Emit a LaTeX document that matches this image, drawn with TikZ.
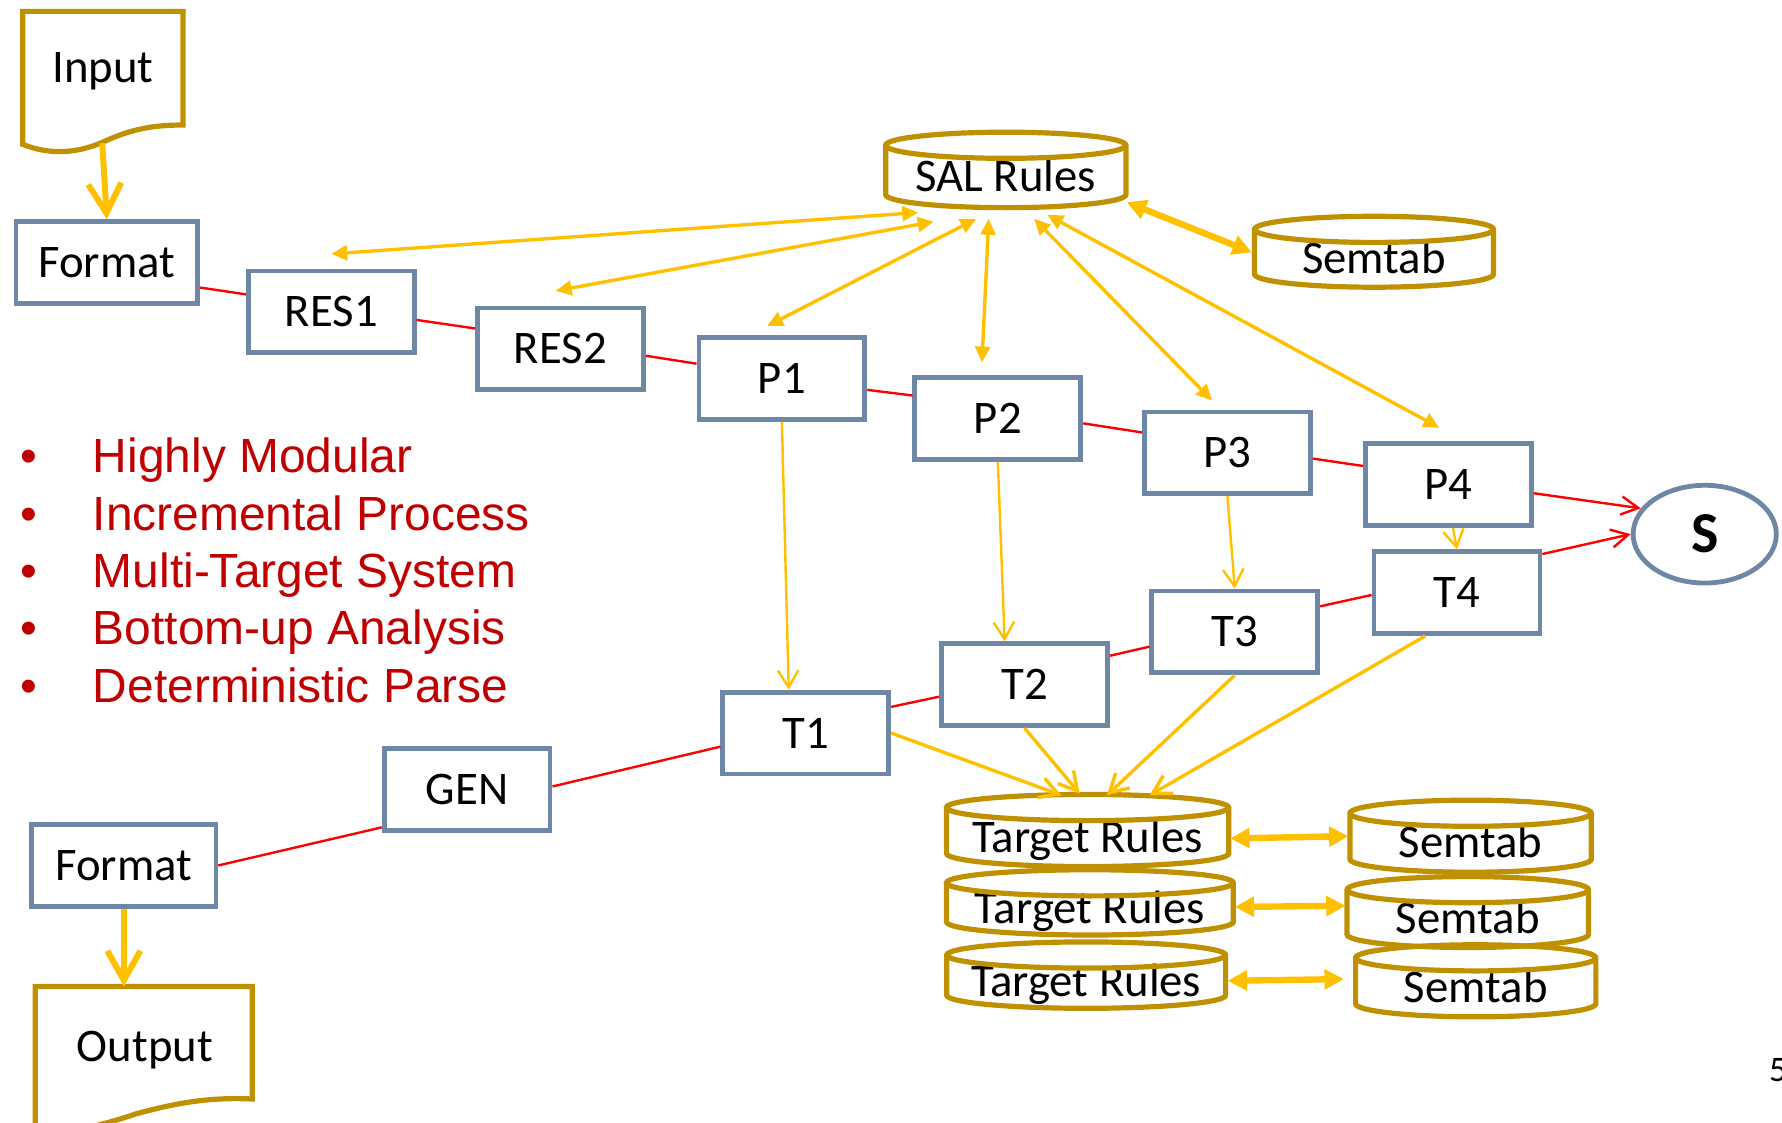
\documentclass[tikz,border=0pt]{standalone}
\usepackage{fontspec}
\setmainfont{Carlito}
\newfontfamily\arialfont{Liberation Sans}
\usepackage{xcolor}
\usepackage{tikz}
\usetikzlibrary{shapes.geometric,arrows.meta,positioning,calc}

\definecolor{boxblue}{HTML}{6F87A7}
\definecolor{dbgold}{HTML}{BF9000}
\definecolor{arrowyellow}{HTML}{FFC000}
\definecolor{itemred}{HTML}{C00000}

\newcommand{\capr}{1.15mm}
% drum outline round a named node
\newcommand{\drum}[1]{%
  \draw[dbline] let \p1=(#1.north west), \p2=(#1.south east), \n1={(\x2-\x1)/2} in
    (\x1,\y1-\capr) -- (\x1,\y2+\capr)
    arc[start angle=180, end angle=360, x radius=\n1, y radius=\capr]
    -- (\x2,\y1-\capr)
    arc[start angle=0, end angle=360, x radius=\n1, y radius=\capr];
}

\tikzset{
  procbox/.style={draw=boxblue, line width=1.2pt, fill=white, minimum width=14.6mm, minimum height=7.2mm, inner sep=0pt, font=\fontsize{11.7}{14}\selectfont},
  sinknode/.style={ellipse, draw=boxblue, line width=1.2pt, fill=white, minimum width=12.6mm, minimum height=8.6mm, inner sep=0pt, font=\fontsize{14.5}{17}\selectfont\bfseries},
  database/.style={rectangle, inner sep=0pt, text height=10.8pt, text depth=0pt, font=\fontsize{11.7}{14}\selectfont},
  dbline/.style={draw=dbgold, line width=1.3pt},
  docline/.style={draw=dbgold, line width=1.3pt, fill=white},
  doctext/.style={anchor=base, font=\fontsize{11.7}{14}\selectfont},
  itemtext/.style={text=itemred, inner sep=0pt, font=\arialfont\fontsize{12}{14}\selectfont},
  redline/.style={draw=red, line width=0.6pt},
  redarrow/.style={redline, -{Straight Barb[length=1.5mm,width=1.6mm]}},
  flowarrow/.style={draw=arrowyellow, line width=1.5pt, -{Straight Barb[length=2.6mm,width=2.9mm]}},
  downarrow/.style={draw=arrowyellow, line width=0.6pt, -{Straight Barb[length=1.5mm,width=1.8mm]}},
  feedarrow/.style={draw=arrowyellow, line width=0.85pt, -{Straight Barb[length=1.6mm,width=1.8mm]}},
  salarrow/.style={draw=arrowyellow, line width=0.85pt, {Triangle[length=1.4mm,width=1.3mm]}-{Triangle[length=1.4mm,width=1.3mm]}},
  dbarrow/.style={draw=arrowyellow, line width=1.6pt, {Triangle[length=1.7mm,width=1.7mm]}-{Triangle[length=1.7mm,width=1.7mm]}}
}

\begin{document}
\begin{tikzpicture}[x=0.1mm, y=-0.1mm]
  \useasboundingbox (0,0) rectangle (1568,988);

  % Input / Output documents
  \draw[docline] (20,127) -- (20,10) -- (161,10) -- (161,110) .. controls (140,110) and (120,112) .. (95,123) .. controls (70,135) and (45,137) .. (20,127) -- cycle;
  \node[doctext] (input) at (90.5,73) {Input};
  \coordinate (inbot) at (90,126);
  \draw[docline] (31,995) -- (31,868) -- (222,868) -- (222,967) .. controls (180,965) and (150,972) .. (120,980) .. controls (90,990) and (60,998) .. (31,995);
  \node[doctext] (output) at (127.5,934) {Output};
  \coordinate (outtop) at (109,868);

  % processing chain
  \node[procbox, minimum width=16.0mm] (fmtA) at (94,231) {Format};
  \node[procbox] (res1) at (291.5,274.5) {RES1};
  \node[procbox] (res2) at (493,307) {RES2};
  \node[procbox] (p1) at (688,333) {P1};
  \node[procbox] (p2) at (878,368) {P2};
  \node[procbox] (p3) at (1080,398.5) {P3};
  \node[procbox] (p4) at (1274.5,426.5) {P4};
  \node[procbox] (t4) at (1282,521.5) {T4};
  \node[procbox] (t3) at (1086.5,556) {T3};
  \node[procbox] (t2) at (901.5,602.5) {T2};
  \node[procbox] (t1) at (709,645) {T1};
  \node[procbox] (gen) at (411,694.5) {GEN};
  \node[procbox, minimum width=16.2mm] (fmtB) at (109,761.5) {Format};
  \node[sinknode] (s) at (1500,470) {S};

  % rule bases
  \node[database, minimum width=21.0mm, minimum height=6.5mm] (sal) at (885,149.5) {SAL Rules};
  \node[database, minimum width=20.9mm, minimum height=6.1mm] (semA) at (1209,221.5) {Semtab};
  \node[database, minimum width=24.7mm, minimum height=6.2mm] (tr1) at (957,730.75) {Target Rules};
  \node[database, minimum width=25.1mm, minimum height=5.6mm] (tr2) at (959,794) {Target Rules};
  \node[database, minimum width=24.4mm, minimum height=5.7mm] (tr3) at (955.75,858) {Target Rules};
  \node[database, minimum width=21.1mm, minimum height=6.2mm] (sem1) at (1294,735.75) {Semtab};
  \node[database, minimum width=21.1mm, minimum height=6.1mm] (sem2) at (1291.5,802.5) {Semtab};
  \node[database, minimum width=21.0mm, minimum height=6.2mm] (sem3) at (1298.5,863) {Semtab};
  \foreach \db in {sal,semA,tr1,tr2,tr3,sem1,sem2,sem3} {\drum{\db}}

  % red chain
  \draw[redline] ($(fmtA.east)+(0,22)$) -- ($(res1.west)+(0,-15.5)$);
  \draw[redline] ($(res1.east)+(0,7)$) -- ($(res2.west)+(0,-18)$);
  \draw[redline] ($(res2.east)+(0,6)$) -- ($(p1.west)+(0,-13)$);
  \draw[redline] ($(p1.east)+(0,10)$) -- ($(p2.west)+(0,-20)$);
  \draw[redline] ($(p2.east)+(0,4.5)$) -- ($(p3.west)+(0,-18)$);
  \draw[redline] ($(p3.east)+(0,5)$) -- ($(p4.west)+(0,-16.5)$);
  \draw[redarrow] ($(p4.east)+(0,7.5)$) -- (s.158);
  \draw[redarrow] ($(t4.east)+(0,-34)$) -- (s.west);
  \draw[redline] ($(t4.west)+(0,2)$) -- ($(t3.east)+(0,-22.5)$);
  \draw[redline] ($(t3.west)+(0,13)$) -- ($(t2.east)+(0,-25.5)$);
  \draw[redline] ($(t2.west)+(0,10.5)$) -- ($(t1.east)+(0,-23)$);
  \draw[redline] ($(t1.west)+(0,12)$) -- ($(gen.east)+(0,-2.5)$);
  \draw[redline] ($(gen.west)+(0,33.5)$) -- (fmtB.east);

  % input and output flow
  \draw[flowarrow] (inbot) -- (fmtA.north);
  \draw[flowarrow] (fmtB.south) -- (outtop);

  % SAL rules access
  \draw[salarrow] ($(sal.center)+(-77,37.5)$) -- ($(res1.north)+(0,-13)$);
  \draw[salarrow] ($(sal.center)+(-63.5,45.5)$) -- ($(res2.north)+(-4,-13)$);
  \draw[salarrow] ($(sal.center)+(-26,43)$) -- ($(p1.north)+(-13,-8)$);
  \draw[salarrow] ($(sal.center)+(-15,43)$) -- ($(p2.north)+(-14,-11)$);
  \draw[salarrow] ($(sal.center)+(25,43)$) -- ($(p3.north)+(-13.5,-8)$);
  \draw[salarrow] ($(sal.center)+(36.5,39.5)$) -- ($(p4.north)+(-8,-12)$);
  \draw[dbarrow] ($(sal.center)+(106.5,28.5)$) -- ($(semA.center)+(-107.5,0.5)$);

  % P to T
  \draw[downarrow] (p1.south) -- ($(t1.north)+(-15,0)$);
  \draw[downarrow] (p2.south) -- ($(t2.north)+(-17.5,0)$);
  \draw[downarrow] (p3.south) -- (t3.north);
  \draw[downarrow] ($(p4.south)+(4,0)$) -- (t4.north);

  % T to target rules
  \draw[feedarrow] (t1.east) -- ($(tr1.center)+(-23,-31)$);
  \draw[feedarrow] (t2.south) -- ($(tr1.center)+(-7,-32.5)$);
  \draw[feedarrow] (t3.south) -- ($(tr1.center)+(17,-31)$);
  \draw[feedarrow] ($(t4.south)+(-28,0)$) -- ($(tr1.center)+(54.5,-31)$);

  % target rules to semtab
  \draw[dbarrow] ($(tr1.center)+(125.5,7)$) -- ($(sem1.center)+(-107.5,0)$);
  \draw[dbarrow] ($(tr2.center)+(127.5,4)$) -- ($(sem2.center)+(-107.5,-5.5)$);
  \draw[dbarrow] ($(tr3.center)+(124.5,5)$) -- ($(sem3.center)+(-116,-1.5)$);

  % properties
  \foreach \txt [count=\i] in {Highly Modular, Incremental Process, Multi-Target System, Bottom-up Analysis, Deterministic Parse} {
    \pgfmathsetmacro{\yval}{416 + 50.5*(\i-1)}
    \node[itemtext, anchor=base] (dot\i) at (25,\yval) {\textbullet};
    \node[itemtext, anchor=base west] (item\i) at (81,\yval) {\txt};
  }

  \node[anchor=base west, inner sep=0pt, font=\fontsize{9}{11}\selectfont] (pagenum) at (1556,952) {5};
\end{tikzpicture}
\end{document}
